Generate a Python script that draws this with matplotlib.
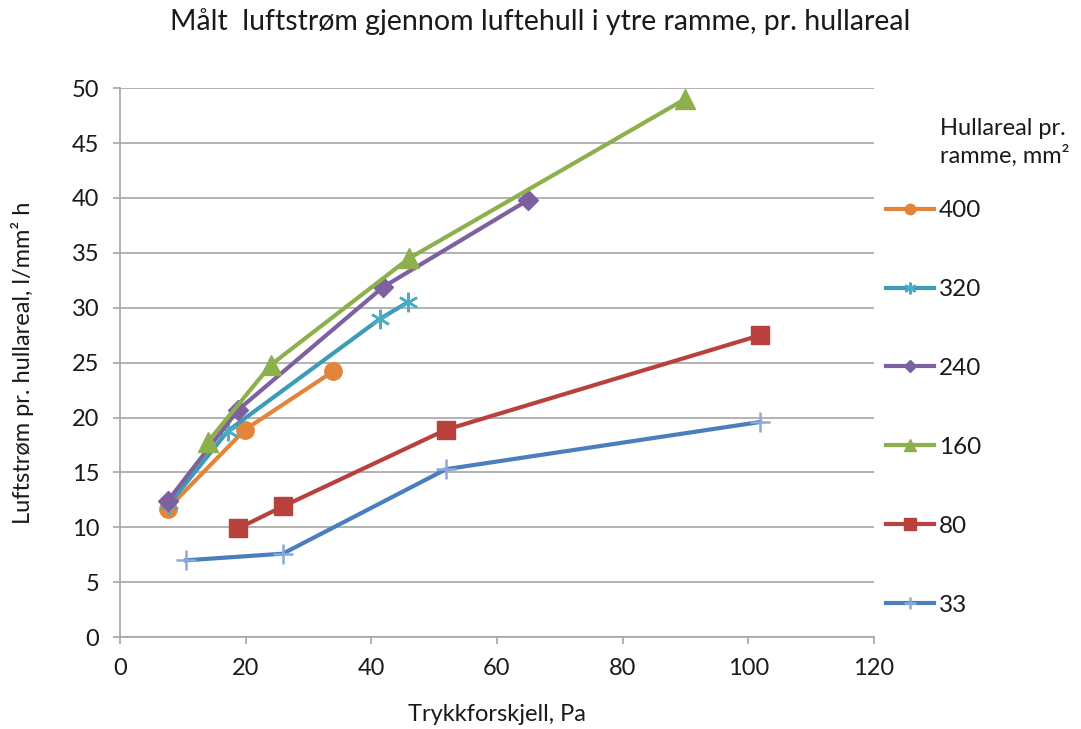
import matplotlib.pyplot as plt

# ==================================================
# DATA
# ==================================================

x_400 = [7.6, 19.9, 33.9]
y_400 = [11.7, 18.9, 24.2]

x_320 = [7.8, 17.2, 41.4, 45.8]
y_320 = [12.1, 18.8, 29.0, 30.5]

x_240 = [7.6, 18.8, 41.9, 64.9]
y_240 = [12.4, 20.7, 31.9, 39.8]

x_160 = [14.0, 24.0, 46.0, 89.9]
y_160 = [17.8, 24.8, 34.5, 49.0]

x_80 = [18.8, 25.9, 51.9, 101.9]
y_80 = [9.9, 11.9, 18.9, 27.5]

x_33 = [10.5, 25.9, 51.9, 101.9]
y_33 = [7.0, 7.6, 15.3, 19.6]

labels = ["400", "320", "240", "160", "80", "33"]

TITLE = "Målt  luftstrøm gjennom luftehull i ytre ramme, pr. hullareal"
XLABEL = "Trykkforskjell, Pa"
YLABEL = "Luftstrøm pr. hullareal, l/mm² h"
LEGEND_TITLE = "Hullareal pr.\nramme, mm²"

# ==================================================
# PLOT
# ==================================================

plt.rcParams["font.family"] = ["Lato", "DejaVu Sans"]
TXT = "#1a1a1a"

fig = plt.figure(figsize=(10.81, 7.29), dpi=100)
ax = fig.add_axes([0.111, 0.126, 0.6975, 0.753])

lw = 3.0

ax.plot(x_400, y_400, color="#E2843A", lw=lw, marker="o", ms=12.5,
        label=labels[0], zorder=3)
ax.plot(x_320, y_320, color="#3D9CB5", lw=lw, marker=(6, 2, 0), ms=14,
        mew=1.8, mec="#4BACC6", label=labels[1], zorder=4)
ax.plot(x_240, y_240, color="#7D60A0", lw=lw, marker="D", ms=10.5,
        label=labels[2], zorder=5)
ax.plot(x_160, y_160, color="#8DB04C", lw=lw, marker="^", ms=14,
        label=labels[3], zorder=6)
ax.plot(x_80, y_80, color="#B8413E", lw=lw, marker="s", ms=13.5,
        label=labels[4], zorder=3)
ax.plot(x_33, y_33, color="#4A7EBF", lw=lw, marker="+", ms=15,
        mew=1.8, mec="#8AA8D8", label=labels[5], zorder=3)

ax.set_xlim(0, 120)
ax.set_ylim(0, 50)
ax.set_xticks(range(0, 121, 20))
ax.set_yticks(range(0, 51, 5))

ax.yaxis.grid(True, color="#A6A6A6", lw=1.2)
ax.set_axisbelow(True)
for s in ["top", "right"]:
    ax.spines[s].set_visible(False)
for s in ["left", "bottom"]:
    ax.spines[s].set_color("#A6A6A6")
    ax.spines[s].set_linewidth(1.2)

ax.tick_params(axis="both", direction="out", length=5, width=1.2,
               color="#A6A6A6", labelsize=17, labelcolor=TXT, pad=10)

ax.set_xlabel(XLABEL, fontsize=17, labelpad=18, color=TXT)
ax.set_ylabel(YLABEL, fontsize=17, labelpad=27, color=TXT)

fig.text(0.5, 0.970, TITLE, ha="center", va="center", fontsize=20.5,
         color=TXT)

# legend title as its own text block, entries below it
fig.text(0.870, 0.8045, LEGEND_TITLE, ha="left", va="center",
         fontsize=17, linespacing=1.35, color=TXT)

leg = fig.legend(loc="upper left", bbox_to_anchor=(0.82, 0.7254),
                 frameon=False, fontsize=17.5, labelspacing=2.38,
                 handlelength=1.95, handletextpad=0.2, borderaxespad=0,
                 borderpad=0, markerscale=0.6)
for t in leg.get_texts():
    t.set_color(TXT)

fig.savefig("out.png", dpi=100)
